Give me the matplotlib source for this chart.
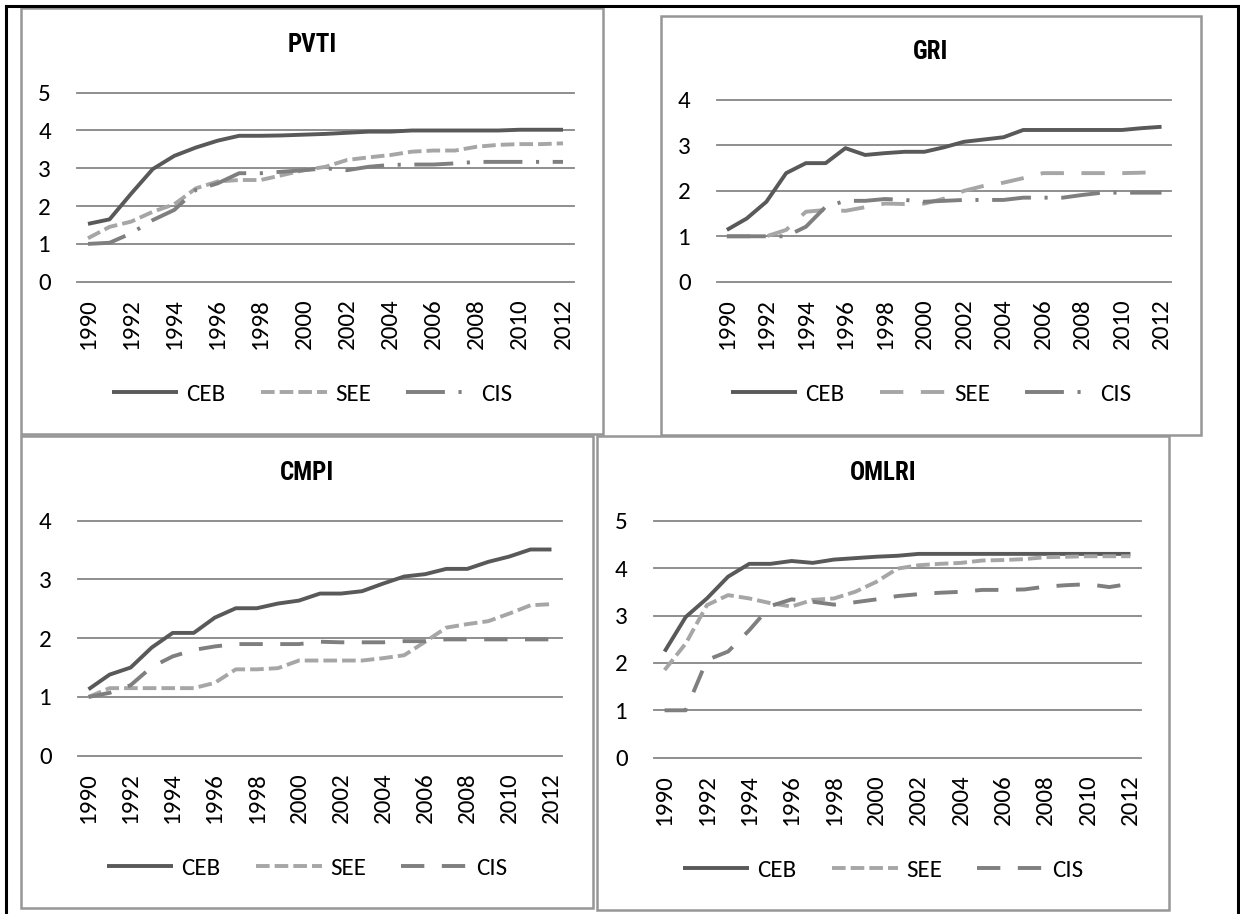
"""Four small panels: PVTI, GRI, CMPI, OMLRI index paths for CEB / SEE / CIS, 1990-2012."""

import matplotlib
matplotlib.use("Agg")
import matplotlib.pyplot as plt
from matplotlib import font_manager
from matplotlib.lines import Line2D
from matplotlib.patches import Rectangle

W, H = 1240, 914

years = list(range(1990, 2013))
groups = ["CEB", "SEE", "CIS"]

pvti_ceb = [1.53, 1.65, 2.33, 2.98, 3.33, 3.55, 3.73, 3.86, 3.86, 3.87, 3.89, 3.91,
            3.94, 3.97, 3.97, 4.0, 4.0, 4.0, 4.0, 4.0, 4.02, 4.02, 4.02]
pvti_see = [1.15, 1.45, 1.59, 1.85, 2.05, 2.47, 2.65, 2.69, 2.69, 2.82, 2.95, 3.04,
            3.22, 3.29, 3.35, 3.44, 3.47, 3.47, 3.57, 3.62, 3.64, 3.64, 3.66]
pvti_cis = [1.0, 1.03, 1.28, 1.63, 1.9, 2.43, 2.6, 2.87, 2.87, 2.91, 2.95, 3.0,
            2.95, 3.04, 3.09, 3.1, 3.1, 3.13, 3.17, 3.17, 3.17, 3.17, 3.17]

gri_ceb = [1.14, 1.39, 1.76, 2.39, 2.61, 2.61, 2.94, 2.79, 2.83, 2.86, 2.86, 2.96,
           3.08, 3.13, 3.18, 3.34, 3.34, 3.34, 3.34, 3.34, 3.34, 3.38, 3.41]
gri_see = [1.0, 1.0, 1.0, 1.14, 1.54, 1.58, 1.56, 1.64, 1.72, 1.71, 1.72, 1.83,
           2.0, 2.11, 2.18, 2.28, 2.39, 2.39, 2.39, 2.39, 2.39, 2.4, 2.42]
gri_cis = [1.0, 1.0, 1.0, 1.0, 1.21, 1.65, 1.78, 1.78, 1.82, 1.8, 1.76, 1.78,
           1.8, 1.8, 1.8, 1.85, 1.85, 1.85, 1.91, 1.96, 1.96, 1.96, 1.96]

cmpi_ceb = [1.13, 1.38, 1.5, 1.84, 2.09, 2.09, 2.35, 2.51, 2.51, 2.59, 2.64, 2.76,
            2.76, 2.8, 2.93, 3.05, 3.09, 3.18, 3.18, 3.3, 3.39, 3.51, 3.51]
cmpi_see = [1.0, 1.15, 1.15, 1.15, 1.15, 1.15, 1.24, 1.47, 1.47, 1.49, 1.62, 1.62,
            1.62, 1.62, 1.66, 1.71, 1.94, 2.18, 2.24, 2.29, 2.42, 2.56, 2.58]
cmpi_cis = [1.0, 1.07, 1.2, 1.51, 1.69, 1.8, 1.86, 1.9, 1.9, 1.9, 1.9, 1.94,
            1.93, 1.93, 1.93, 1.95, 1.95, 1.98, 1.98, 1.98, 1.98, 1.98, 1.98]

omlri_ceb = [2.24, 2.97, 3.36, 3.82, 4.09, 4.09, 4.15, 4.11, 4.18, 4.21, 4.24, 4.26,
             4.3, 4.3, 4.3, 4.3, 4.3, 4.3, 4.3, 4.3, 4.3, 4.3, 4.3]
omlri_see = [1.85, 2.41, 3.22, 3.43, 3.36, 3.26, 3.19, 3.33, 3.36, 3.5, 3.71, 3.99,
             4.06, 4.09, 4.11, 4.16, 4.17, 4.19, 4.23, 4.24, 4.25, 4.25, 4.25]
omlri_cis = [1.0, 1.0, 2.06, 2.24, 2.69, 3.2, 3.34, 3.29, 3.23, 3.28, 3.34, 3.41,
             3.45, 3.48, 3.5, 3.54, 3.54, 3.55, 3.61, 3.64, 3.66, 3.6, 3.67]

# pick Calibri-like / Arial-Narrow-like faces if the machine has them
installed = {f.name for f in font_manager.fontManager.ttflist}


def first(cands):
    for c in cands:
        if c in installed:
            return c
    return "DejaVu Sans"


BODY = first(["Carlito", "Calibri", "Lato"])
NARROW = first(["Arial Narrow", "Liberation Sans Narrow", "Roboto Condensed",
                "Archivo Narrow", "Open Sans Condensed", "DejaVu Sans"])
FS = 18 if BODY in ("Carlito", "Calibri") else 16

plt.rcParams["font.family"] = [BODY, "DejaVu Sans"]

COL = {"CEB": "#595959", "SEE": "#a6a6a6", "CIS": "#7f7f7f"}
SHORT = (0, (3.5, 1.3))
MID = (0, (6, 4.5))
DASHDOT = (0, (10, 3.5, 0.8, 3.5))


def px_rect(x0, y0, x1, y1):
    return [x0 / W, 1 - y1 / H, (x1 - x0) / W, (y1 - y0) / H]


def panel(fig, title, data, ymax, styles, ax_px, box_px, title_y, leg_y):
    ax = fig.add_axes(px_rect(*ax_px))
    for v in range(ymax + 1):
        ax.axhline(v, color="#868686", lw=1.3, clip_on=False, zorder=0)
    for g, vals in zip(groups, data):
        ax.plot(years, vals, color=COL[g], lw=2.8, ls=styles[g], label=g,
                solid_capstyle="butt", dash_capstyle="butt")
    ax.set_xlim(1989.5, 2012.5)
    ax.set_ylim(0, ymax)
    ax.set_yticks(range(ymax + 1))
    ax.set_xticks(years[::2])
    ax.set_xticklabels([str(y) for y in years[::2]], rotation=90)
    ax.tick_params(length=0, labelsize=FS, colors="black")
    ax.tick_params(axis="y", pad=19)
    ax.tick_params(axis="x", pad=12)
    for s in ax.spines.values():
        s.set_visible(False)

    bx0, by0, bx1, by1 = box_px
    fig.add_artist(Rectangle((bx0 / W, 1 - by1 / H), (bx1 - bx0) / W, (by1 - by0) / H,
                             transform=fig.transFigure, fill=False,
                             ec="#969696", lw=1.8))
    cx = (bx0 + bx1) / 2 / W
    fig.text(cx, 1 - title_y / H, title, ha="center", va="center", fontsize=18,
             fontweight="bold", family=[NARROW, "DejaVu Sans"])
    ax.legend(loc="center", bbox_to_anchor=(cx, 1 - leg_y / H),
              bbox_transform=fig.transFigure, ncol=3, frameon=False, fontsize=FS,
              handlelength=66 / (FS * 1.389), handletextpad=0.35,
              columnspacing=1.4, borderaxespad=0, borderpad=0)
    return ax


fig = plt.figure(figsize=(W / 100, H / 100), dpi=100)

panel(fig, "PVTI", [pvti_ceb, pvti_see, pvti_cis], 5,
      {"CEB": "-", "SEE": SHORT, "CIS": DASHDOT},
      (77.2, 92.7, 573.8, 281.7), (21, 8, 603, 434), 45, 394)
panel(fig, "GRI", [gri_ceb, gri_see, gri_cis], 4,
      {"CEB": "-", "SEE": MID, "CIS": DASHDOT},
      (717, 100, 1171.4, 281.7), (661, 16, 1201, 435), 52, 394)
panel(fig, "CMPI", [cmpi_ceb, cmpi_see, cmpi_cis], 4,
      {"CEB": "-", "SEE": SHORT, "CIS": MID},
      (78, 520.7, 562, 755.7), (21, 436, 593, 908), 473, 868)
panel(fig, "OMLRI", [omlri_ceb, omlri_see, omlri_cis], 5,
      {"CEB": "-", "SEE": SHORT, "CIS": MID},
      (654, 520.7, 1141, 757.7), (597, 436, 1169, 910), 473, 870)

# outer frame (black, open at the bottom)
for xs, ys in [((6, 6), (6, 914)), ((6, 1238), (6, 6)), ((1238, 1238), (6, 914))]:
    fig.add_artist(Line2D([x / W for x in xs], [1 - y / H for y in ys],
                          transform=fig.transFigure, color="black", lw=2.2))

fig.savefig("out.png", dpi=100)
